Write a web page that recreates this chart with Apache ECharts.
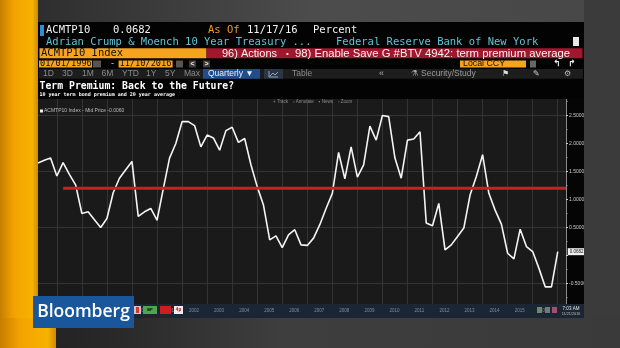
<!DOCTYPE html>
<html><head><meta charset="utf-8">
<script src="https://cdn.jsdelivr.net/npm/echarts@6/dist/echarts.min.js"></script>
<style>html,body{margin:0;padding:0;background:#3a3a3a;}#c{width:620px;height:348px;}</style>
</head><body><div id="c"></div>
<script>
// ---- data ----
const startYear = 1996;
const endYear = 2016;
const quarters = [];
for (let y = startYear; y <= endYear; y++) for (let q = 1; q <= 4; q++) quarters.push(y + 'Q' + q);
const premium = [
 1.65,1.70,1.74,1.42, 1.66,1.45,1.26,0.75, 0.78,0.64,0.50,0.66, 1.12,1.38,1.53,1.68,
 0.70,0.78,0.84,0.63, 1.19,1.74,2.00,2.39, 2.39,2.32,1.94,2.15, 2.10,1.88,2.23,2.29,
 2.02,2.09,1.62,1.23, 0.90,0.28,0.35,0.14, 0.37,0.46,0.19,0.18, 0.31,0.55,0.84,1.11,
 1.84,1.37,1.94,1.40, 1.62,2.31,2.06,2.50, 2.48,1.74,1.38,2.06, 2.08,2.21,0.58,0.53,
 0.93,0.10,0.19,0.34, 0.49,1.08,1.41,1.80, 1.11,0.81,0.56,0.04, -0.06,0.47,0.16,0.07,
 -0.23,-0.56,-0.56,0.0682
];
const avgStart = '1997Q1';
const avgValue = 1.2;
const yTicks = [-0.5, 0, 0.5, 1.0, 1.5, 2.0, 2.5];
const legendText = 'ACMTP10 Index - Mid Price -0.0060';
const lastText = '0.0682';

// quarter -> decimal year (quarter end)
function toT(q){ const y = +q.slice(0,4), n = +q.slice(5); return y + n/4; }
const xMin = 1996, xMax = 2017.33;

const mainData = quarters.map((q,i)=>[toT(q), premium[i]]);
const avgData = [[toT(avgStart), avgValue], [xMax, avgValue]];

// ---- graphics helpers ----
function R(x,y,w,h,fill,z){ return {type:'rect', shape:{x,y,width:w,height:h}, style:{fill}, z:z===undefined?50:z, silent:true}; }
function T(x,y,text,fill,size,family,weight,align,z){
  return {type:'text', x, y, z:z===undefined?55:z, silent:true,
    style:{text, fill, fontSize:size, fontFamily:family||'Liberation Sans', fontWeight:weight||'normal',
      align:align||'left', verticalAlign:'middle'}};
}
const MONO = 'DejaVu Sans Mono';
const SANS = 'Liberation Sans';
const orangeGrad = {type:'linear',x:0,y:0,x2:1,y2:0,colorStops:[{offset:0,color:'#c77d00'},{offset:0.35,color:'#f2a200'},{offset:0.85,color:'#f7b200'},{offset:1,color:'#d08a00'}]};
const topGrad = {type:'linear',x:0,y:0,x2:1,y2:0,colorStops:[{offset:0,color:'#2a2a2a'},{offset:0.5,color:'#4c4c4c'},{offset:1,color:'#474747'}]};
const botGrad = {type:'linear',x:0,y:0,x2:1,y2:0,colorStops:[{offset:0,color:'#1e1e1e'},{offset:0.2,color:'#2a2a2a'},{offset:0.45,color:'#3e3e3e'},{offset:1,color:'#3a3a3a'}]};

const g = [
  // backgrounds behind plot
  R(38,99,528,205,'#1a1a1a',-10),
  R(566,99,18,205,'#050505',-10),
  // covers
  R(0,0,620,22,topGrad,50),
  R(584,0,36,320,'#3b3b3b',50),
  R(38,22,546,77,'#030303',50),
  R(38,304,546,14,'#1a2633',50),
  R(0,318,620,30,botGrad,50),
  R(0,0,38,348,orangeGrad,52),
  R(0,318,56,30,orangeGrad,52),
  // row 1
  R(40,25,4,11,'#2c8fd0',53),
  T(46,30.5,'ACMTP10','#f2f2f2',10.5,MONO),
  T(113,30.5,'0.0682','#f2f2f2',10.5,MONO),
  T(208,30.5,'As Of','#f29a2e',10.5,MONO),
  T(247,30.5,'11/17/16','#f2f2f2',10.5,MONO),
  T(313,30.5,'Percent','#f2f2f2',10.5,MONO),
  // row 2
  T(46,42,'Adrian Crump & Moench 10 Year Treasury ...','#5ec6d6',10.5,MONO),
  T(336,42,'Federal Reserve Bank of New York','#5ec6d6',10.5,MONO),
  R(573,37,6,9,'#e8e8e8',53),
  // row 3
  R(39.5,48.3,167,10,'#f6a41f',53),
  T(41,53.5,'ACMTP10 Index','#111',10.5,MONO,'normal','left',56),
  R(206.5,48.3,376,10,'#a0172e',53),
  T(222,53.5,'96) Actions','#f4f4f4',11,SANS,'normal','left',56),
  T(286,53.5,'•','#f4f4f4',8,SANS,'normal','left',56),
  T(295,53.5,'98) Enable Save G #BTV 4942: term premium average','#f4f4f4',11.3,SANS,'normal','left',56),
  // row 4
  R(39,60.5,53,7,'#f6a41f',53),
  T(40,64,'01/01/1996','#111',8.6,MONO,'normal','left',56),
  R(93,60.5,8,7,'#555',53),
  T(111,64,'-','#ddd',9,SANS),
  R(118.6,60.5,54,7,'#f6a41f',53),
  T(119.6,64,'11/10/2016','#111',8.6,MONO,'normal','left',56),
  R(176,60.5,7,7,'#555',53),
  R(189,60.5,7,7,'#3a3a3a',53),
  T(192.5,64,'<','#eee',7,SANS,'bold','center',56),
  R(203,60.5,7,7,'#3a3a3a',53),
  T(206.5,64,'>','#eee',7,SANS,'bold','center',56),
  R(460,60.5,66,7,'#f6a41f',53),
  T(463,64,'Local CCY','#111',8.8,SANS,'normal','left',56),
  R(530,60.5,6,7,'#666',53),
  T(553,64,'↰','#eee',9,'DejaVu Sans','bold','left',56),
  T(568,64,'↱','#eee',9,'DejaVu Sans','bold','left',56),
  // row 5
  R(39,69,544,9.7,'#1d1d1d',53),
  T(43,74,'1D','#8a8a8a',8.5,SANS,'normal','left',56),
  T(62,74,'3D','#8a8a8a',8.5,SANS,'normal','left',56),
  T(82,74,'1M','#8a8a8a',8.5,SANS,'normal','left',56),
  T(101.5,74,'6M','#8a8a8a',8.5,SANS,'normal','left',56),
  T(122,74,'YTD','#8a8a8a',8.5,SANS,'normal','left',56),
  T(146,74,'1Y','#8a8a8a',8.5,SANS,'normal','left',56),
  T(165,74,'5Y','#8a8a8a',8.5,SANS,'normal','left',56),
  T(184,74,'Max','#8a8a8a',8.5,SANS,'normal','left',56),
  R(203,69,57,9.7,'#1f4e8a',54),
  T(208,74,'Quarterly ▼','#f0f0f0',8.5,SANS,'normal','left',56),
  R(264,69,19,9.7,'#2a3546',54),
  {type:'polyline', z:56, silent:true, shape:{points:[[269,71],[269,77],[278,77]]}, style:{stroke:'#8fa3bf',lineWidth:1,fill:null}},
  {type:'polyline', z:56, silent:true, shape:{points:[[270,76],[273,73],[275,75],[278,72]]}, style:{stroke:'#8fa3bf',lineWidth:1,fill:null}},
  T(292,74,'Table','#8a8a8a',8.5,SANS,'normal','left',56),
  T(379,74,'«','#aaa',9,SANS,'normal','left',56),
  T(411,74,'⚗','#aaa',8,'DejaVu Sans','normal','left',56),
  T(421,74,'Security/Study','#9a9a9a',8.5,SANS,'normal','left',56),
  T(502,74,'⚑','#ddd',8,'DejaVu Sans','normal','left',56),
  T(533,74,'✎','#ccc',8,'DejaVu Sans','normal','left',56),
  T(564,74,'⚙','#bbb',8,'DejaVu Sans','normal','left',56),
  // titles
  T(39.5,86,'Term Premium: Back to the Future?','#ffffff',9.8,MONO,'bold','left',56),
  T(39.5,94.5,'10 year term bond premium and 20 year average','#ffffff',5,MONO,'bold','left',56),
  // plot toolbar and legend
  T(273,102,'+ Track    ▫ Annotate    ▪ News    ▫ Zoom','#8c8c8c',4.5,SANS,'normal','left',5),
  R(40,109.5,3,3,'#eeeeee',5),
  T(44,111,legendText,'#bdbdbd',5,SANS,'normal','left',5),
  // bottom strip extras
  R(134,306,7,8,'#c9c9c9',70), R(136,307,3,6,'#d33',71),
  R(143,306,14,8,'#4aa84a',70), T(150,310,'BP','#0c0c0c',4,SANS,'bold','center',71),
  R(160,306,11,8,'#d41c1c',70),
  R(174,306,9,8,'#eeeeee',70), T(178.5,310,'4p','#c00',4.5,SANS,'bold','center',71),
  R(537,307,5,6,'#6a8a6a',70), R(545,307,5,6,'#777',70), R(552,307,5,6,'#a05070',70),
  T(571,308.5,'7:03 AM','#e6e6e6',4.5,SANS,'normal','center',70),
  T(571,313.5,'11/21/2016','#bcbcbc',3.8,SANS,'normal','center',70),
  // Bloomberg logo
  R(33,296,101,32,'#1a569c',80),
  T(83.5,312,'Bloomberg','#ffffff',17.5,'Open Sans','600','center',81)
];

const chart = echarts.init(document.getElementById('c'), null, {renderer:'canvas'});
chart.setOption({
  animation:false,
  backgroundColor:'#3a3a3a',
  grid:{left:31.8, right:54, top:87.5, bottom:36.5},
  xAxis:[
    {type:'value', min:xMin, max:xMax, interval:1,
     axisLine:{show:false}, axisTick:{show:false}, axisLabel:{show:false},
     splitLine:{show:true, lineStyle:{color:'#343434', width:1}}},
    {type:'value', min:xMin, max:xMax, interval:1, position:'bottom', offset:-4, z:60,
     axisLine:{show:false}, axisTick:{show:false}, splitLine:{show:false},
     axisLabel:{show:true, fontSize:4.5, color:'#7d8c9c', fontFamily:SANS, margin:1, align:'left', padding:[0,0,0,7],
       showMinLabel:false, showMaxLabel:false,
       formatter:v=> (v>=1997 && v<=2016) ? String(v) : ''}}
  ],
  yAxis:{type:'value', position:'right', min:-1, max:3, interval:0.5,
    axisLine:{show:true, lineStyle:{color:'#8a8a8a', width:1}},
    axisTick:{show:true, length:2, lineStyle:{color:'#cfcfcf'}},
    minorTick:{show:true, splitNumber:2, length:1.5, lineStyle:{color:'#9a9a9a'}},
    splitLine:{show:true, lineStyle:{color:['rgba(0,0,0,0)','#343434'], width:1}},
    axisLabel:{show:true, fontSize:5, color:'#cfcfcf', fontFamily:SANS, margin:3,
      showMinLabel:false, showMaxLabel:false,
      formatter:v=> (yTicks.indexOf(v)>=0 && v!==0) ? v.toFixed(4) : ''}},
  graphic:{elements:g},
  series:[
    {type:'line', xAxisIndex:0, data:mainData, symbol:'none', z:3,
     lineStyle:{color:'#f4f4f4', width:1.6},
     endLabel:{show:true, formatter:()=>lastText, backgroundColor:'#f0f0f0', color:'#111',
       fontSize:4.5, fontFamily:SANS, padding:[1,2,1,2], distance:10}},
    {type:'line', xAxisIndex:0, data:avgData, symbol:'none', z:4,
     lineStyle:{color:'#cf1d26', width:3}}
  ]
});
</script></body></html>
